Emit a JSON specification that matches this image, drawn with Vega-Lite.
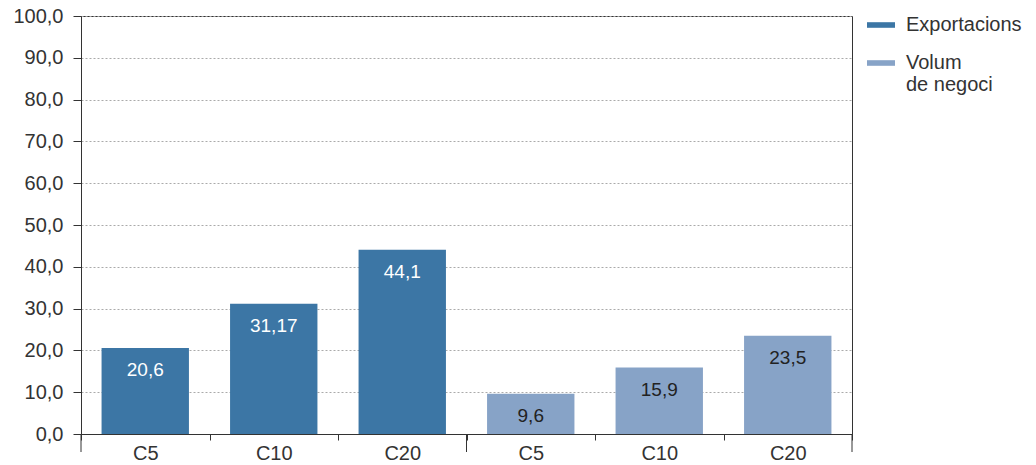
{
  "$schema": "https://vega.github.io/schema/vega-lite/v6.json",
  "width": 771,
  "height": 418,
  "autosize": {"type": "none"},
  "padding": {"left": 81, "top": 16, "right": 184, "bottom": 31},
  "config": {
    "locale": {"number": {"decimal": ",", "thousands": ".", "grouping": [3], "currency": ["", " €"]}},
    "view": {"stroke": "#333", "strokeWidth": 1},
    "font": "Liberation Sans",
    "style": {"guide-label": {"lineHeight": 22}}
  },
  "data": {
    "values": [
      {"cat": "E|C5", "serie": "Exportacions", "valor": 20.6},
      {"cat": "E|C10", "serie": "Exportacions", "valor": 31.17},
      {"cat": "E|C20", "serie": "Exportacions", "valor": 44.1},
      {"cat": "V|C5", "serie": "Volum de negoci", "valor": 9.6},
      {"cat": "V|C10", "serie": "Volum de negoci", "valor": 15.9},
      {"cat": "V|C20", "serie": "Volum de negoci", "valor": 23.5}
    ]
  },
  "encoding": {
    "x": {
      "field": "cat",
      "type": "nominal",
      "sort": null,
      "scale": {"domain": ["E|C5", "E|C10", "E|C20", "V|C5", "V|C10", "V|C20"], "paddingInner": 0, "paddingOuter": 0},
      "axis": {
        "title": null,
        "orient": "bottom",
        "labelAngle": 0,
        "tickBand": "extent",
        "tickSize": 6,
        "tickColor": "#333",
        "domainColor": "#333",
        "labelExpr": "split(datum.label, '|')[1]",
        "labelFontSize": 20,
        "labelColor": "#333",
        "labelPadding": 3,
        "grid": false
      }
    },
    "y": {
      "field": "valor",
      "type": "quantitative",
      "scale": {"domain": [0, 100], "nice": false},
      "axis": {
        "title": null,
        "values": [0, 10, 20, 30, 40, 50, 60, 70, 80, 90, 100],
        "format": ".1f",
        "labelFontSize": 20,
        "labelColor": "#333",
        "labelPadding": 10,
        "tickSize": 8,
        "tickColor": "#333",
        "domainColor": "#333",
        "gridColor": "#aaa",
        "gridDash": [2, 2],
        "gridWidth": 1
      }
    }
  },
  "layer": [
    {
      "mark": {"type": "bar", "width": {"band": 0.68}},
      "encoding": {
        "color": {
          "field": "serie",
          "type": "nominal",
          "scale": {"domain": ["Exportacions", "Volum de negoci"], "range": ["#3c76a5", "#87a3c7"]},
          "legend": {
            "title": null,
            "orient": "none",
            "legendX": 786,
            "legendY": -5,
            "padding": 0,
            "symbolType": "M-1,-0.2H1V0.2H-1Z",
            "symbolSize": 784,
            "symbolStrokeWidth": 0,
            "symbolOpacity": 1,
            "labelFontSize": 20,
            "labelColor": "#333",
            "labelOffset": 11,
            "labelLimit": 250,
            "rowPadding": 14,
            "labelExpr": "datum.label === 'Volum de negoci' ? ['Volum', 'de negoci'] : datum.label"
          }
        }
      }
    },
    {
      "mark": {"type": "text", "baseline": "middle", "dy": 22, "fontSize": 19},
      "encoding": {
        "text": {"field": "valor", "type": "quantitative", "format": ".2~f"},
        "color": {"condition": {"test": "datum.serie === 'Exportacions'", "value": "#ffffff"}, "value": "#222222"}
      }
    },
    {
      "transform": [{"filter": "datum.cat === 'E|C20' || datum.cat === 'V|C20'"}],
      "mark": {"type": "rule", "y2Offset": 18, "color": "#333", "strokeWidth": 1},
      "encoding": {
        "x": {"field": "cat", "type": "nominal", "sort": null, "bandPosition": 1},
        "y": {"datum": 0},
        "y2": {"datum": 0}
      }
    },
    {
      "transform": [{"filter": "datum.cat === 'E|C5'"}],
      "mark": {"type": "rule", "y2Offset": 18, "color": "#333", "strokeWidth": 1},
      "encoding": {
        "x": {"field": "cat", "type": "nominal", "sort": null, "bandPosition": 0},
        "y": {"datum": 0},
        "y2": {"datum": 0}
      }
    }
  ]
}
